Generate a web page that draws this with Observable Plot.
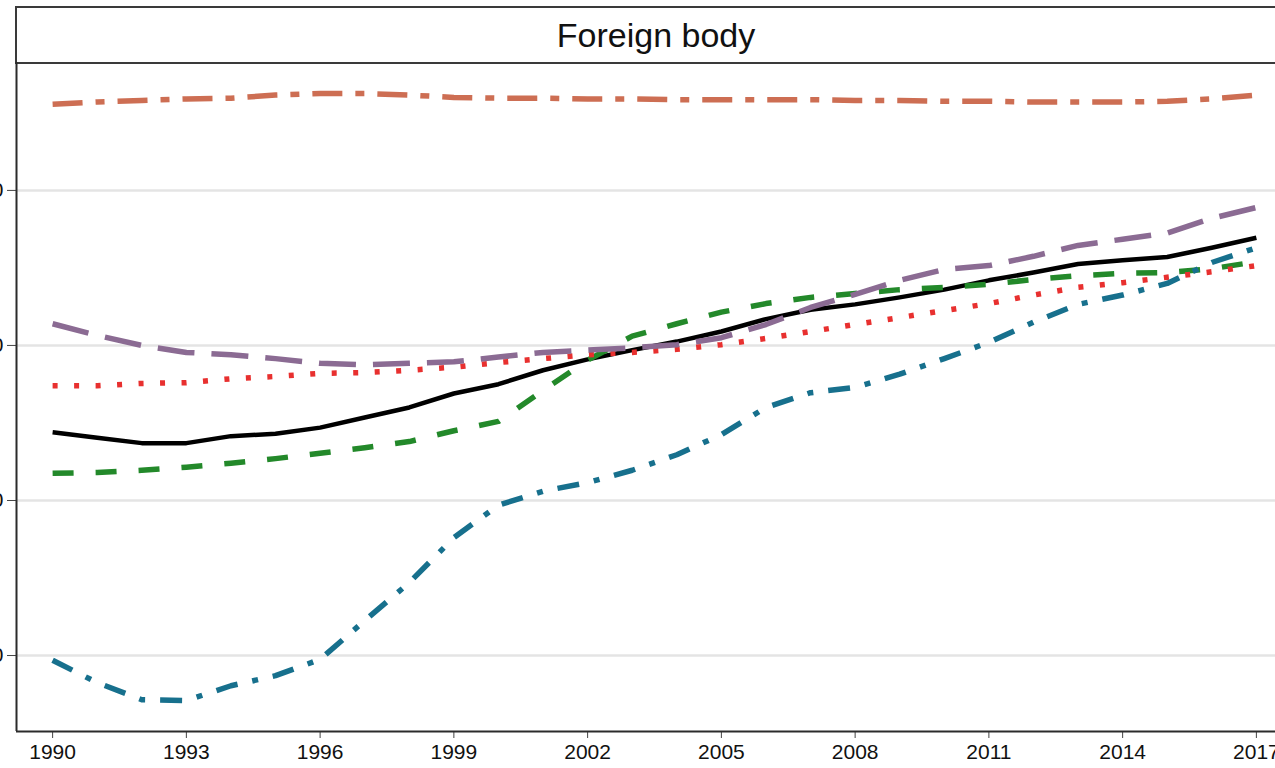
<!DOCTYPE html>
<html>
<head>
<meta charset="utf-8">
<script src="https://cdn.jsdelivr.net/npm/d3@7"></script>
<script src="https://cdn.jsdelivr.net/npm/@observablehq/plot@0.6"></script>
<style>
  html, body { margin: 0; padding: 0; background: #fff; width: 1275px; height: 768px; overflow: hidden; position: relative; }
  #strip { position: absolute; left: 15px; top: 6px; width: 1290px; height: 54px; border: 2px solid #3a3a3a; box-sizing: content-box;
           font-family: "Liberation Sans", Arial, sans-serif; font-size: 34px; color: #111; }
  #strip span { position: absolute; left: 0; width: 1278px; text-align: center; top: 8px; }
  #chart { position: absolute; left: -44px; top: 62px; width: 1356px; }
  #chart svg { max-width: none !important; }
</style>
</head>
<body>
<div id="strip"><span id="title"></span></div>
<div id="chart"></div>
<script>
const title = "Foreign body";
const years = [1990,1991,1992,1993,1994,1995,1996,1997,1998,1999,2000,2001,2002,2003,2004,2005,2006,2007,2008,2009,2010,2011,2012,2013,2014,2015,2016,2017];
const xTicks = [1990,1993,1996,1999,2002,2005,2008,2011,2014,2017];
const yTicks = [20,40,60,80];
const yDomain = [10.2, 96.5];

const seriesBlack  = [48.8,48.1,47.4,47.4,48.3,48.6,49.4,50.7,52.0,53.8,55.0,56.8,58.2,59.4,60.5,61.8,63.4,64.6,65.3,66.2,67.2,68.4,69.4,70.5,71.0,71.4,72.6,73.9];
const seriesOrange = [91.1,91.4,91.6,91.8,91.9,92.3,92.5,92.5,92.3,92.0,91.9,91.9,91.8,91.8,91.7,91.7,91.7,91.7,91.6,91.6,91.5,91.5,91.4,91.4,91.4,91.5,91.8,92.3];
const seriesPurple = [62.8,61.3,60.0,59.1,58.8,58.3,57.7,57.5,57.7,57.9,58.5,59.1,59.4,59.7,60.1,61.0,62.7,64.9,66.6,68.4,69.8,70.3,71.5,72.9,73.7,74.5,76.4,77.8];
const seriesRed    = [54.8,54.8,55.1,55.2,55.7,56.0,56.4,56.5,56.8,57.2,57.8,58.3,58.8,59.1,59.5,60.1,60.9,61.8,62.7,63.6,64.5,65.4,66.5,67.5,68.1,68.8,69.5,70.3];
const seriesGreen  = [43.5,43.6,43.9,44.3,44.8,45.4,46.1,46.8,47.6,49.0,50.2,54.2,58.1,61.2,62.8,64.3,65.4,66.2,66.7,67.2,67.5,67.9,68.5,69.0,69.3,69.4,69.9,70.8];
const seriesTeal   = [19.4,16.5,14.3,14.2,16.1,17.4,19.5,24.5,29.4,35.2,39.4,41.2,42.3,43.9,45.9,48.5,52.0,53.9,54.6,56.3,58.3,60.4,63.0,65.3,66.5,68.0,70.7,72.6];

const seriesList = [
  {name: "Black",  values: seriesBlack,  stroke: "#000000", width: 4.5, dash: null},
  {name: "Green",  values: seriesGreen,  stroke: "#23892a", width: 5.5, dash: "21,22"},
  {name: "Red",    values: seriesRed,    stroke: "#e8302f", width: 5.5, dash: "5,16.5"},
  {name: "Teal",   values: seriesTeal,   stroke: "#17708d", width: 5.5, dash: "22,15,6,15"},
  {name: "Orange", values: seriesOrange, stroke: "#cd6e53", width: 5.5, dash: "30,13,9,13"},
  {name: "Purple", values: seriesPurple, stroke: "#8b6b93", width: 5.5, dash: "37,17"}
];

document.getElementById("title").textContent = title;

const xDomain = [years[0] - 0.81, years[years.length - 1] + 0.81];

const lineMarks = seriesList.map(s => Plot.line(
  years.map((yr, i) => ({year: yr, value: s.values[i], series: s.name})),
  {x: "year", y: "value", stroke: s.stroke, strokeWidth: s.width,
   strokeDasharray: s.dash || undefined, strokeLinecap: "butt", strokeLinejoin: "round", curve: "linear"}
));

const chart = Plot.plot({
  width: 1356,
  height: 706,
  marginLeft: 60,
  marginRight: 20,
  marginTop: 0,
  marginBottom: 37,
  style: {fontFamily: "'Liberation Sans', Arial, sans-serif", fontSize: "21px", color: "#111", background: "transparent", overflow: "visible", maxWidth: "none"},
  x: {domain: xDomain},
  y: {domain: yDomain},
  marks: [
    Plot.gridY(yTicks, {stroke: "#e4e4e4", strokeOpacity: 1, strokeWidth: 2.5}),
    ...lineMarks,
    Plot.axisY(yTicks, {tickSize: 9, tickPadding: 4, fontSize: 21, stroke: "#444", label: null}),
    Plot.axisX(xTicks, {tickSize: 7, tickPadding: 6, fontSize: 21, stroke: "#444", tickFormat: d => String(d), label: null}),
    Plot.ruleX([xDomain[0]], {stroke: "#2b2b2b", strokeWidth: 2}),
    Plot.ruleY([yDomain[0]], {stroke: "#2b2b2b", strokeWidth: 2})
  ]
});
document.getElementById("chart").appendChild(chart);
</script>
</body>
</html>
